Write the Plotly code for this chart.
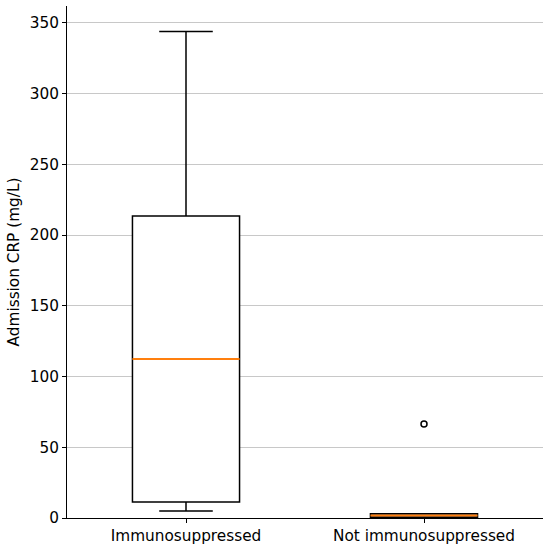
import plotly.graph_objects as go

# box stats (mg/L)
groups = ['Immunosuppressed', 'Not immunosuppressed']
positions = [1, 2]
q1 = [11.3, 0.5]
median = [112.4, 1.8]
q3 = [213.5, 3.0]
lower = [5.0, 0.5]
upper = [344.0, 3.0]
outlier_x = [2]
outlier_y = [66.5]

box_w = 0.45
fs = 15.3

fig = go.Figure()
fig.add_trace(go.Box(x=positions, q1=q1, median=median, q3=q3,
                     lowerfence=lower, upperfence=upper,
                     boxpoints=False, width=box_w, whiskerwidth=0.5,
                     fillcolor='white', line=dict(color='black', width=1.5),
                     showlegend=False, hoverinfo='skip'))

# orange median lines like matplotlib
for p, m in zip(positions, median):
    fig.add_trace(go.Scatter(x=[p - box_w / 2, p + box_w / 2], y=[m, m], mode='lines',
                             line=dict(color='#ff7f0e', width=2), showlegend=False))

fig.add_trace(go.Scatter(x=outlier_x, y=outlier_y, mode='markers',
                         marker=dict(symbol='circle-open', size=6, color='black',
                                     line=dict(width=1.5)),
                         showlegend=False))

fig.update_layout(
    width=550, height=550, plot_bgcolor='white', paper_bgcolor='white',
    margin=dict(l=67, r=7, t=6, b=32),
    font=dict(family='DejaVu Sans', size=fs, color='black'),
    xaxis=dict(range=[0.5, 2.5], tickvals=positions, ticktext=groups,
               tickfont=dict(size=fs),
               showgrid=False, zeroline=False, showline=True, linecolor='black',
               linewidth=1, ticks='outside', ticklen=4, tickcolor='black'),
    yaxis=dict(range=[0, 362], tickvals=[0, 50, 100, 150, 200, 250, 300, 350],
               tickfont=dict(size=fs),
               title=dict(text='Admission CRP (mg/L)', standoff=6, font=dict(size=fs)),
               showgrid=True, gridcolor='#c8c8c8', gridwidth=1, zeroline=False,
               showline=True, linecolor='black', linewidth=1,
               ticks='outside', ticklen=4, tickcolor='black'),
)

fig.write_html("out.html", config={'displayModeBar': False},
               post_script="document.body.style.margin='0px';")
